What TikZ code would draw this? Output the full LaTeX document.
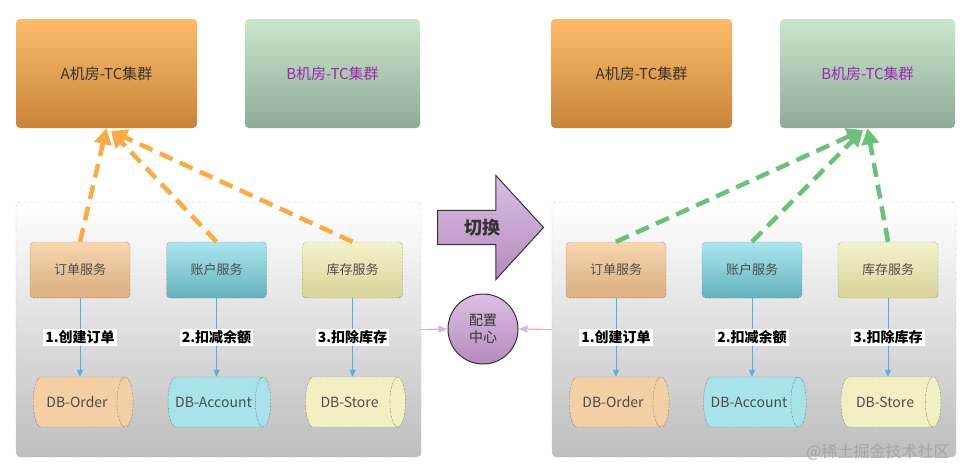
\documentclass[tikz,border=0pt]{standalone}
\usepackage{fontspec}
\setmainfont{Noto Sans CJK SC}
\definecolor{orangetop}{RGB}{253, 188, 106}
\definecolor{orangebot}{RGB}{200, 132, 58}
\definecolor{greentop}{RGB}{202, 231, 204}
\definecolor{greenbot}{RGB}{143, 170, 150}
\definecolor{purpletext}{RGB}{156, 39, 176}
\definecolor{panelgray}{RGB}{190, 190, 190}
\definecolor{panelpink}{RGB}{215, 175, 215}
\definecolor{ordtop}{RGB}{247, 214, 176}
\definecolor{ordbot}{RGB}{218, 174, 128}
\definecolor{ordfill}{RGB}{244, 206, 164}
\definecolor{acctop}{RGB}{172, 230, 238}
\definecolor{accbot}{RGB}{100, 178, 188}
\definecolor{accfill}{RGB}{168, 226, 234}
\definecolor{stotop}{RGB}{245, 243, 204}
\definecolor{stobot}{RGB}{216, 211, 152}
\definecolor{stofill}{RGB}{242, 240, 194}
\definecolor{dashorange}{RGB}{251, 170, 72}
\definecolor{dashgreen}{RGB}{108, 192, 122}
\definecolor{callblue}{RGB}{90, 170, 230}
\definecolor{cfgtop}{RGB}{222, 190, 228}
\definecolor{cfgbot}{RGB}{180, 140, 190}
\definecolor{linkpink}{RGB}{220, 180, 225}
\usetikzlibrary{shapes.geometric, shapes.arrows, arrows.meta, positioning}

\begin{document}
\begin{tikzpicture}[x=1pt, y=-1pt,
  cluster/.style={rounded corners=4pt, minimum height=109pt, font=\fontsize{15}{17}\selectfont},
  clusterA/.style={cluster, minimum width=181pt, top color=orangetop, bottom color=orangebot, text=black!80},
  clusterB/.style={cluster, minimum width=175pt, top color=greentop, bottom color=greenbot, text=purpletext},
  panel/.style={draw=panelpink, dashed, rounded corners=4pt, top color=white, bottom color=panelgray, minimum height=255pt},
  svc/.style={draw=black!75, densely dotted, rounded corners=4pt, minimum width=100pt, minimum height=56pt, font=\fontsize{13}{15}\selectfont, text=black!70},
  db/.style={cylinder, draw=black!75, densely dotted, cylinder uses custom fill, minimum width=50pt, minimum height=100pt, aspect=0.9, font=\fontsize{14}{16}\selectfont, text=black!70},
  steplabel/.style={fill=white, inner sep=2pt, font=\bfseries\fontsize{14}{16}\selectfont},
  call/.style={draw=callblue, line width=0.8pt, -{Triangle[length=7pt, width=6pt]}},
  toA/.style={draw=dashorange, line width=4.5pt, dash pattern=on 14pt off 8pt, -{Triangle[length=16pt, width=17pt]}},
  toB/.style={draw=dashgreen, line width=4.5pt, dash pattern=on 14pt off 8pt, -{Triangle[length=16pt, width=17pt]}},
  cfglink/.style={draw=linkpink, line width=1.2pt, -{Triangle[length=9pt, width=7pt]}}
]
  \useasboundingbox (0,0) rectangle (973,474);

  \node[clusterA] (LclA) at (106.5, 73.5) {A机房-TC集群};
  \node[clusterB] (LclB) at (332.5, 73.5) {B机房-TC集群};
  \node[clusterA] (RclA) at (641.5, 73.5) {A机房-TC集群};
  \node[clusterB] (RclB) at (867.5, 73.5) {B机房-TC集群};

  \node[panel, minimum width=405pt] (Lpanel) at (218.5, 329.5) {};
  \node[panel, minimum width=404pt] (Rpanel) at (754, 329.5) {};

  \node[svc, top color=ordtop, bottom color=ordbot] (Lord) at (80, 270) {订单服务};
  \node[svc, top color=acctop, bottom color=accbot] (Lacc) at (216.5, 270) {账户服务};
  \node[svc, top color=stotop, bottom color=stobot] (Lsto) at (352.5, 270) {库存服务};
  \node[svc, top color=ordtop, bottom color=ordbot] (Rord) at (616, 270) {订单服务};
  \node[svc, top color=acctop, bottom color=accbot] (Racc) at (752, 270) {账户服务};
  \node[svc, top color=stotop, bottom color=stobot] (Rsto) at (888, 270) {库存服务};

  \node[db, cylinder body fill=ordfill, cylinder end fill=ordfill] (LdbO) at (77, 402) {DB-Order};
  \node[db, cylinder body fill=accfill, cylinder end fill=accfill] (LdbA) at (213.5, 402) {DB-Account};
  \node[db, cylinder body fill=stofill, cylinder end fill=stofill] (LdbS) at (349.5, 402) {DB-Store};
  \node[db, cylinder body fill=ordfill, cylinder end fill=ordfill] (RdbO) at (613, 402) {DB-Order};
  \node[db, cylinder body fill=accfill, cylinder end fill=accfill] (RdbA) at (749, 402) {DB-Account};
  \node[db, cylinder body fill=stofill, cylinder end fill=stofill] (RdbS) at (885, 402) {DB-Store};

  \draw[call] (Lord) -- node[steplabel] (Lstep1) {1.创建订单} (Lord.south |- LdbO.north);
  \draw[call] (Lacc) -- node[steplabel] (Lstep2) {2.扣减余额} (Lacc.south |- LdbA.north);
  \draw[call] (Lsto) -- node[steplabel] (Lstep3) {3.扣除库存} (Lsto.south |- LdbS.north);
  \draw[call] (Rord) -- node[steplabel] (Rstep1) {1.创建订单} (Rord.south |- RdbO.north);
  \draw[call] (Racc) -- node[steplabel] (Rstep2) {2.扣减余额} (Racc.south |- RdbA.north);
  \draw[call] (Rsto) -- node[steplabel] (Rstep3) {3.扣除库存} (Rsto.south |- RdbS.north);

  \coordinate (LtipA) at (111, 131);
  \coordinate (RtipB) at (863, 130);
  \draw[toA] (Lord.north) -- (LclA.south);
  \draw[toA] (Lacc.north) -- (LtipA);
  \draw[toA] (Lsto.north) -- (LtipA);
  \draw[toB] (Rord.north) -- (RtipB);
  \draw[toB] (Racc.north) -- (RtipB);
  \draw[toB] (Rsto.north) -- (RclB.south);

  \node[single arrow, draw=black!80, line width=1pt, top color=cfgtop, bottom color=cfgbot,
    minimum height=106pt, single arrow head extend=35pt, single arrow tip angle=95,
    inner ysep=8pt, inner xsep=4pt, anchor=tail, font=\bfseries\fontsize{18}{20}\selectfont,
    text=black!80] (switch) at (437, 227.5) {切换};

  \node[circle, draw=black!80, line width=1pt, minimum size=70pt, top color=cfgtop, bottom color=cfgbot,
    align=center, font=\fontsize{14}{17}\selectfont, text=black!80] (cfg) at (483, 329) {配置\\中心};
  \draw[cfglink] (Lpanel.east) -- (cfg.west);
  \draw[cfglink] (Rpanel.west) -- (cfg.east);

  \node[text=gray!70, font=\fontsize{16}{18}\selectfont] (mark) at (878, 452) {@稀土掘金技术社区};
\end{tikzpicture}
\end{document}
